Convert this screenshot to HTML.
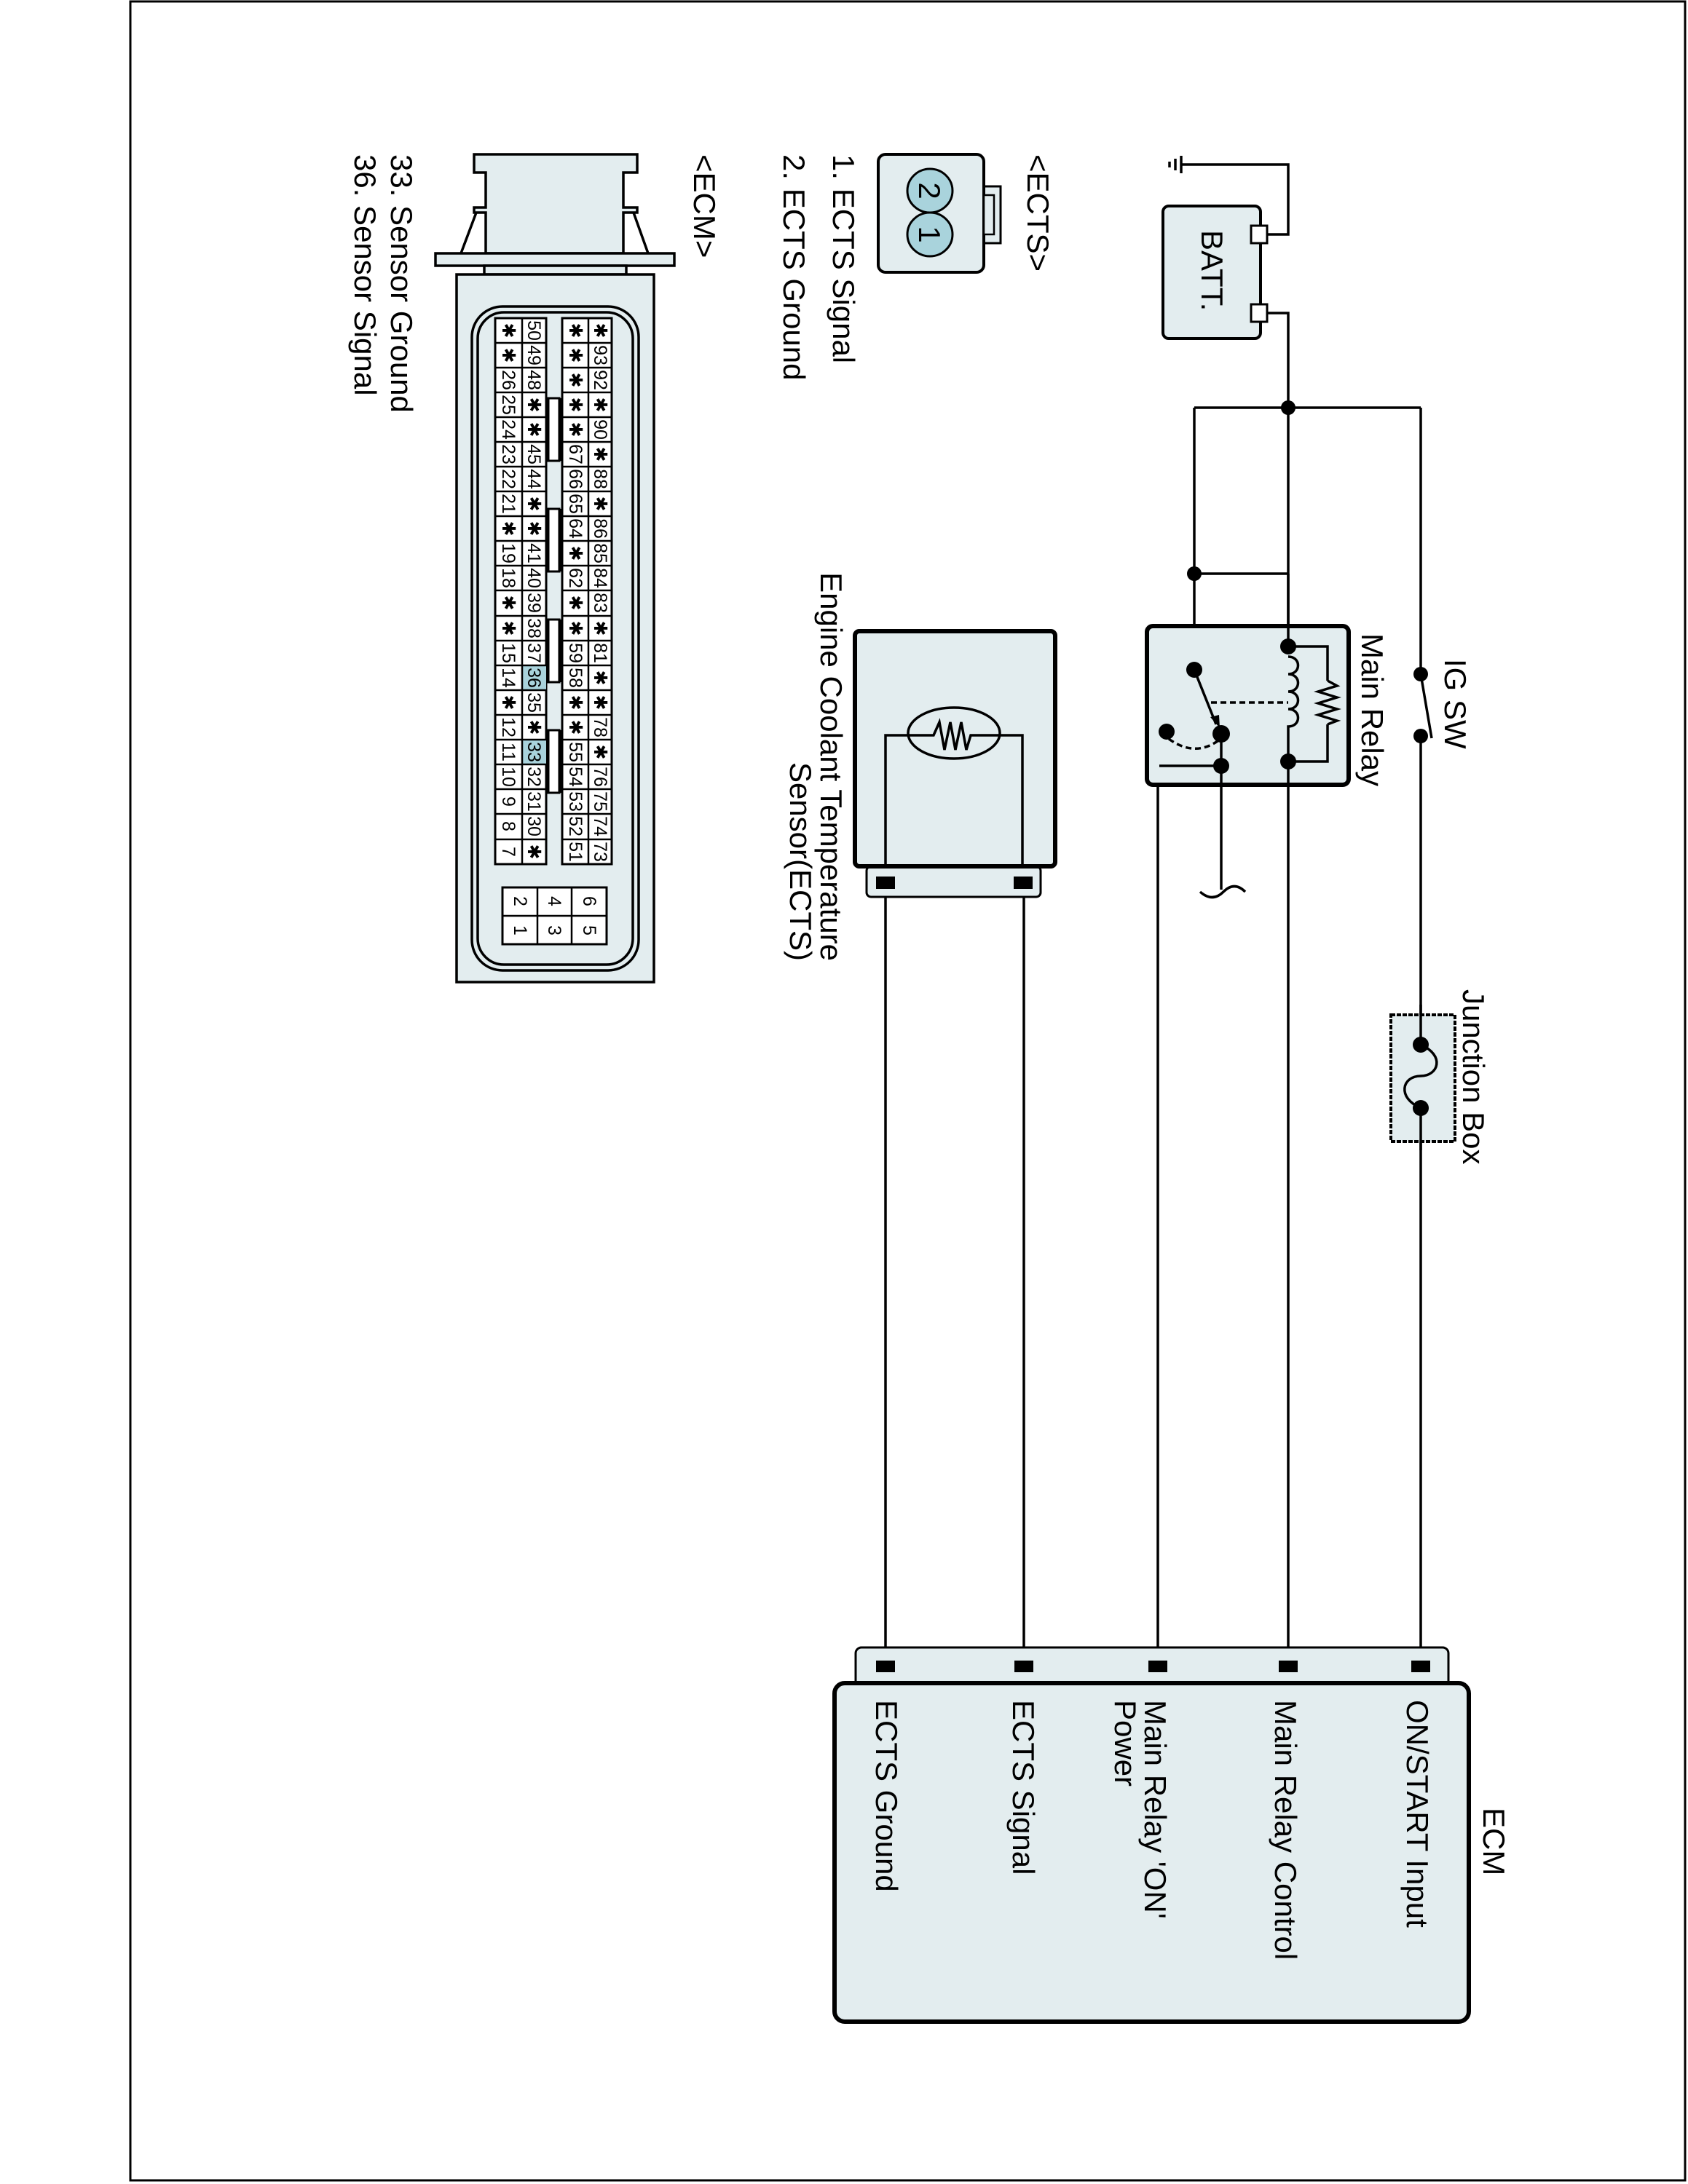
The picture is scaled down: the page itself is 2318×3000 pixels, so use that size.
<!DOCTYPE html>
<html><head><meta charset="utf-8"><style>
html,body{margin:0;padding:0;background:#fff}
svg{display:block}
text{font-family:"Liberation Sans",Arial,sans-serif;fill:#000}
.c{font-size:25px}
.c text{dominant-baseline:central}
.l{font-size:42px}
</style></head><body>
<svg width="2318" height="3000" viewBox="0 0 2318 3000" xmlns="http://www.w3.org/2000/svg">
<rect x="179" y="2" width="2135" height="2993" fill="none" stroke="#000" stroke-width="3"/>

<g stroke="#000" stroke-width="3.5" fill="none">
 <line x1="1622" y1="214" x2="1622" y2="238"/><line x1="1614" y1="218" x2="1614" y2="234"/><line x1="1606" y1="222" x2="1606" y2="230"/>
 <polyline points="1622,226 1769,226 1769,322 1740,322"/>
 <polyline points="1740,430 1769,430 1769,2285"/>
 <line x1="1640" y1="560" x2="1951" y2="560"/>
 <line x1="1640" y1="560" x2="1640" y2="920"/>
 <line x1="1640" y1="788" x2="1769" y2="788"/>
 <line x1="1951" y1="560" x2="1951" y2="926"/>
 <line x1="1951" y1="1011" x2="1951" y2="2285"/>
 <line x1="1951" y1="926" x2="1966" y2="1014"/>
 <line x1="1590" y1="1052" x2="1590" y2="2285"/>
 <line x1="1216" y1="1215" x2="1216" y2="2285"/>
 <line x1="1406" y1="1215" x2="1406" y2="2285"/>
</g>
<rect x="1597" y="283" width="134" height="182" rx="8" fill="#e3edef" stroke="#000" stroke-width="4"/>
<rect x="1718" y="310" width="22" height="24" fill="#fff" stroke="#000" stroke-width="3"/>
<rect x="1718" y="418" width="22" height="24" fill="#fff" stroke="#000" stroke-width="3"/>
<text class="l" transform="translate(1650,316) rotate(90)">BATT.</text>
<circle cx="1769" cy="560" r="10"/>
<circle cx="1640" cy="788" r="10"/>
<circle cx="1951" cy="926" r="10"/>
<circle cx="1951" cy="1011" r="10"/>
<text class="l" transform="translate(1984,905) rotate(90)">IG SW</text>

<rect x="1575" y="860" width="277" height="218" rx="8" fill="#e3edef" stroke="#000" stroke-width="6"/>
<g stroke="#000" stroke-width="3.5" fill="none">
 <line x1="1769" y1="788" x2="1769" y2="888"/>
 <polyline points="1769,888 1823,888 1823,935"/>
 <polyline points="1823,995 1823,1046 1769,1046"/>
 <polyline points="1823,935 1836,942 1810,950 1836,958 1810,966 1836,974 1810,982 1836,990 1823,995"/>
 <path d="M1769,902 c18,0 18,24 0,24 c18,0 18,24 0,24 c18,0 18,24 0,24 c18,0 18,24 0,24 L1769,1046"/>
 <line x1="1769" y1="1046" x2="1769" y2="1080"/>
 <line x1="1640" y1="920" x2="1670" y2="995"/>
 <line x1="1663" y1="965" x2="1769" y2="965" stroke-dasharray="8,5"/>
 <path d="M1605,1015 Q1640,1040 1672,1018" stroke-dasharray="8,5"/>
 <line x1="1677" y1="1008" x2="1677" y2="1222"/>
 <polyline points="1677,1052 1592,1052"/>
 <path d="M1648,1225 Q1665,1240 1680,1225 Q1695,1210 1710,1225"/>
</g>
<polygon points="1675,1000 1662,985 1674,982" fill="#000"/>
<circle cx="1769" cy="888" r="11"/><circle cx="1769" cy="1046" r="11"/>
<circle cx="1640" cy="920" r="11"/><circle cx="1677" cy="1008" r="12"/>
<circle cx="1602" cy="1005" r="11"/><circle cx="1677" cy="1052" r="11"/>
<text class="l" transform="translate(1870,870) rotate(90)">Main Relay</text>

<rect x="1910" y="1394" width="88" height="174" fill="#e3edef" stroke="#000" stroke-width="4" stroke-dasharray="6,2"/>
<line x1="1951" y1="1380" x2="1951" y2="1435" stroke="#000" stroke-width="3.5"/>
<line x1="1951" y1="1522" x2="1951" y2="1580" stroke="#000" stroke-width="3.5"/>
<path d="M1951,1435 C1985,1450 1975,1478 1951,1478 C1925,1478 1918,1508 1951,1522" fill="none" stroke="#000" stroke-width="3.5"/>
<circle cx="1951" cy="1435" r="11"/><circle cx="1951" cy="1522" r="11"/>
<text class="l" transform="translate(2009,1359) rotate(90)">Junction Box</text>

<rect x="1190" y="1190" width="239" height="42" rx="6" fill="#e3edef" stroke="#000" stroke-width="3"/>
<rect x="1174" y="867" width="275" height="323" rx="6" fill="#e3edef" stroke="#000" stroke-width="6"/>
<rect x="1203" y="1204" width="26" height="17"/><rect x="1392" y="1204" width="26" height="17"/>
<ellipse cx="1310" cy="1007" rx="63" ry="35" fill="none" stroke="#000" stroke-width="3.5"/>
<polyline points="1216,1190 1216,1010 1282,1010 1290,992 1297,1030 1305,992 1312,1030 1320,992 1327,1030 1333,1010 1404,1010 1404,1190" fill="none" stroke="#000" stroke-width="3.5"/>
<text class="l" text-anchor="end" transform="translate(1127,1320) rotate(90)">Engine Coolant Temperature</text>
<text class="l" text-anchor="end" transform="translate(1085,1320) rotate(90)">Sensor(ECTS)</text>

<rect x="1175" y="2263" width="814" height="60" rx="8" fill="#e3edef" stroke="#000" stroke-width="3"/>
<rect x="1146" y="2312" width="871" height="465" rx="14" fill="#e3edef" stroke="#000" stroke-width="6"/>
<rect x="1203" y="2281" width="26" height="16"/><rect x="1393" y="2281" width="26" height="16"/>
<rect x="1577" y="2281" width="26" height="16"/><rect x="1756" y="2281" width="26" height="16"/>
<rect x="1938" y="2281" width="26" height="16"/>
<text class="l" transform="translate(2037,2483) rotate(90)">ECM</text>
<text class="l" transform="translate(1932,2335) rotate(90)">ON/START Input</text>
<text class="l" transform="translate(1751,2335) rotate(90)">Main Relay Control</text>
<text class="l" transform="translate(1572,2335) rotate(90)">Main Relay 'ON'</text>
<text class="l" transform="translate(1531,2335) rotate(90)">Power</text>
<text class="l" transform="translate(1391,2335) rotate(90)">ECTS Signal</text>
<text class="l" transform="translate(1203,2335) rotate(90)">ECTS Ground</text>

<text class="l" transform="translate(1411,212) rotate(90)">&lt;ECTS&gt;</text>
<text class="l" transform="translate(1144,212) rotate(90)">1. ECTS Signal</text>
<text class="l" transform="translate(1076,212) rotate(90)">2. ECTS Ground</text>
<text class="l" transform="translate(953,212) rotate(90)">&lt;ECM&gt;</text>
<text class="l" transform="translate(537,212) rotate(90)">33. Sensor Ground</text>
<text class="l" transform="translate(487,212) rotate(90)">36. Sensor Signal</text>

<rect x="1346" y="256" width="28" height="78" fill="#e3edef" stroke="#000" stroke-width="3"/>
<rect x="1206" y="212" width="145" height="162" rx="10" fill="#e3edef" stroke="#000" stroke-width="4"/>
<rect x="1351" y="268" width="14" height="54" fill="#e3edef" stroke="#000" stroke-width="2.5"/>
<ellipse cx="1277" cy="262" rx="31" ry="30" fill="#a9d3dc" stroke="#000" stroke-width="3"/>
<ellipse cx="1277" cy="322" rx="31" ry="30" fill="#a9d3dc" stroke="#000" stroke-width="3"/>
<text class="l" text-anchor="middle" transform="translate(1262,262) rotate(90)">2</text>
<text class="l" text-anchor="middle" transform="translate(1262,322) rotate(90)">1</text>

<g fill="#e3edef" stroke="#000" stroke-width="3.5">
 <polygon points="651,212 875,212 875,237 856,237 856,285 875,285 875,292 856,292 856,348 667,348 667,292 651,292 651,285 667,285 667,237 651,237"/>
 <polyline points="654,292 633,348" fill="none"/>
 <polyline points="870,292 890,348" fill="none"/>
 <rect x="598" y="348" width="328" height="17"/>
 <rect x="665" y="365" width="195" height="12"/>
 <rect x="627" y="377" width="271" height="972"/>
 <rect x="648" y="421" width="229" height="912" rx="42" fill="none"/>
 <rect x="656" y="429" width="213" height="896" rx="36" fill="none"/>
</g>

<g fill="#fff" stroke="#000" stroke-width="3">
 <rect x="680" y="437" width="70" height="750"/>
 <rect x="772" y="437" width="68" height="750"/>
</g>
<rect x="718" y="914" width="32" height="34" fill="#a9d3dc"/>
<rect x="718" y="1016" width="32" height="34" fill="#a9d3dc"/>
<g stroke="#000" stroke-width="2.5">
 <line x1="717" y1="437" x2="717" y2="1187"/><line x1="808" y1="437" x2="808" y2="1187"/>
 <path d="M680,471H750M680,505H750M680,539H750M680,573H750M680,607H750M680,641H750M680,675H750M680,709H750M680,743H750M680,777H750M680,811H750M680,846H750M680,880H750M680,914H750M680,948H750M680,982H750M680,1016H750M680,1050H750M680,1084H750M680,1118H750M680,1153H750"/>
 <path d="M772,471H840M772,505H840M772,539H840M772,573H840M772,607H840M772,641H840M772,675H840M772,709H840M772,743H840M772,777H840M772,811H840M772,846H840M772,880H840M772,914H840M772,948H840M772,982H840M772,1016H840M772,1050H840M772,1084H840M772,1118H840M772,1153H840"/>
</g>
<g fill="#fff" stroke="#000" stroke-width="3">
 <rect x="753" y="547" width="15" height="86"/><rect x="753" y="699" width="15" height="86"/>
 <rect x="753" y="851" width="15" height="86"/><rect x="753" y="1003" width="15" height="86"/>
</g>
<g fill="#000"><rect x="767" y="547" width="4" height="86"/><rect x="767" y="699" width="4" height="86"/><rect x="767" y="851" width="4" height="86"/><rect x="767" y="1003" width="4" height="86"/></g>

<g class="c" text-anchor="middle">
<text transform="translate(824,454) rotate(90)">✱</text><text transform="translate(824,488) rotate(90)">93</text><text transform="translate(824,522) rotate(90)">92</text><text transform="translate(824,556) rotate(90)">✱</text><text transform="translate(824,590) rotate(90)">90</text><text transform="translate(824,624) rotate(90)">✱</text><text transform="translate(824,658) rotate(90)">88</text><text transform="translate(824,692) rotate(90)">✱</text><text transform="translate(824,726) rotate(90)">86</text><text transform="translate(824,760) rotate(90)">85</text><text transform="translate(824,794) rotate(90)">84</text><text transform="translate(824,828) rotate(90)">83</text><text transform="translate(824,863) rotate(90)">✱</text><text transform="translate(824,897) rotate(90)">81</text><text transform="translate(824,931) rotate(90)">✱</text><text transform="translate(824,965) rotate(90)">✱</text><text transform="translate(824,999) rotate(90)">78</text><text transform="translate(824,1033) rotate(90)">✱</text><text transform="translate(824,1067) rotate(90)">76</text><text transform="translate(824,1101) rotate(90)">75</text><text transform="translate(824,1135) rotate(90)">74</text><text transform="translate(824,1170) rotate(90)">73</text>
<text transform="translate(790,454) rotate(90)">✱</text><text transform="translate(790,488) rotate(90)">✱</text><text transform="translate(790,522) rotate(90)">✱</text><text transform="translate(790,556) rotate(90)">✱</text><text transform="translate(790,590) rotate(90)">✱</text><text transform="translate(790,624) rotate(90)">67</text><text transform="translate(790,658) rotate(90)">66</text><text transform="translate(790,692) rotate(90)">65</text><text transform="translate(790,726) rotate(90)">64</text><text transform="translate(790,760) rotate(90)">✱</text><text transform="translate(790,794) rotate(90)">62</text><text transform="translate(790,828) rotate(90)">✱</text><text transform="translate(790,863) rotate(90)">✱</text><text transform="translate(790,897) rotate(90)">59</text><text transform="translate(790,931) rotate(90)">58</text><text transform="translate(790,965) rotate(90)">✱</text><text transform="translate(790,999) rotate(90)">✱</text><text transform="translate(790,1033) rotate(90)">55</text><text transform="translate(790,1067) rotate(90)">54</text><text transform="translate(790,1101) rotate(90)">53</text><text transform="translate(790,1135) rotate(90)">52</text><text transform="translate(790,1170) rotate(90)">51</text>
<text transform="translate(733,454) rotate(90)">50</text><text transform="translate(733,488) rotate(90)">49</text><text transform="translate(733,522) rotate(90)">48</text><text transform="translate(733,556) rotate(90)">✱</text><text transform="translate(733,590) rotate(90)">✱</text><text transform="translate(733,624) rotate(90)">45</text><text transform="translate(733,658) rotate(90)">44</text><text transform="translate(733,692) rotate(90)">✱</text><text transform="translate(733,726) rotate(90)">✱</text><text transform="translate(733,760) rotate(90)">41</text><text transform="translate(733,794) rotate(90)">40</text><text transform="translate(733,828) rotate(90)">39</text><text transform="translate(733,863) rotate(90)">38</text><text transform="translate(733,897) rotate(90)">37</text><text transform="translate(733,931) rotate(90)">36</text><text transform="translate(733,965) rotate(90)">35</text><text transform="translate(733,999) rotate(90)">✱</text><text transform="translate(733,1033) rotate(90)">33</text><text transform="translate(733,1067) rotate(90)">32</text><text transform="translate(733,1101) rotate(90)">31</text><text transform="translate(733,1135) rotate(90)">30</text><text transform="translate(733,1170) rotate(90)">✱</text>
<text transform="translate(698,454) rotate(90)">✱</text><text transform="translate(698,488) rotate(90)">✱</text><text transform="translate(698,522) rotate(90)">26</text><text transform="translate(698,556) rotate(90)">25</text><text transform="translate(698,590) rotate(90)">24</text><text transform="translate(698,624) rotate(90)">23</text><text transform="translate(698,658) rotate(90)">22</text><text transform="translate(698,692) rotate(90)">21</text><text transform="translate(698,726) rotate(90)">✱</text><text transform="translate(698,760) rotate(90)">19</text><text transform="translate(698,794) rotate(90)">18</text><text transform="translate(698,828) rotate(90)">✱</text><text transform="translate(698,863) rotate(90)">✱</text><text transform="translate(698,897) rotate(90)">15</text><text transform="translate(698,931) rotate(90)">14</text><text transform="translate(698,965) rotate(90)">✱</text><text transform="translate(698,999) rotate(90)">12</text><text transform="translate(698,1033) rotate(90)">11</text><text transform="translate(698,1067) rotate(90)">10</text><text transform="translate(698,1101) rotate(90)">9</text><text transform="translate(698,1135) rotate(90)">8</text><text transform="translate(698,1170) rotate(90)">7</text>
</g>
<rect x="690" y="1219" width="143" height="78" fill="#fff" stroke="#000" stroke-width="3"/>
<g stroke="#000" stroke-width="2.5"><line x1="738" y1="1219" x2="738" y2="1297"/><line x1="785" y1="1219" x2="785" y2="1297"/><line x1="690" y1="1258" x2="833" y2="1258"/></g>
<g class="c" text-anchor="middle">
<text transform="translate(809,1238) rotate(90)">6</text><text transform="translate(809,1278) rotate(90)">5</text>
<text transform="translate(761,1238) rotate(90)">4</text><text transform="translate(761,1278) rotate(90)">3</text>
<text transform="translate(714,1238) rotate(90)">2</text><text transform="translate(714,1278) rotate(90)">1</text>
</g>
</svg>
</body></html>
